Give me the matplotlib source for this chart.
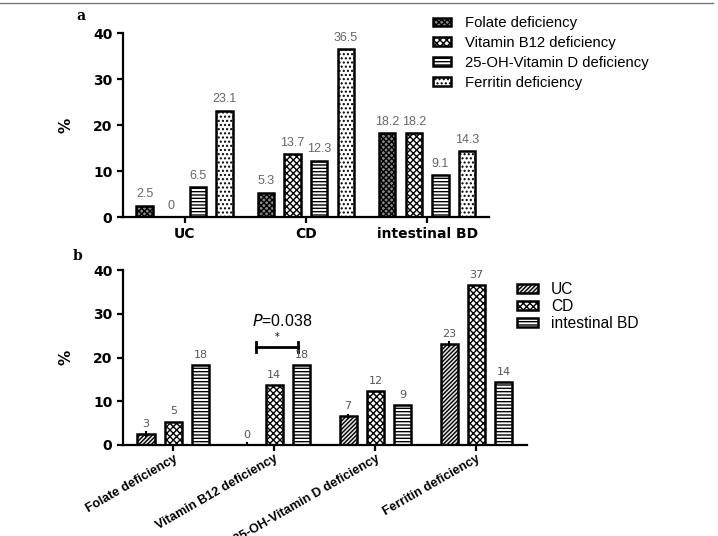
import matplotlib
matplotlib.use("Agg")
from matplotlib import pyplot as plt
from matplotlib.lines import Line2D
from matplotlib.patches import Patch
import numpy as np

# Panel a data: deficiency (%) per disease group
groups_a = ["UC", "CD", "intestinal BD"]
deficiencies = ["Folate deficiency", "Vitamin B12 deficiency",
                "25-OH-Vitamin D deficiency", "Ferritin deficiency"]
folate_a = [2.5, 5.3, 18.2]
b12_a = [0, 13.7, 18.2]
vitd_a = [6.5, 12.3, 9.1]
ferritin_a = [23.1, 36.5, 14.3]
labels_a = [["2.5", "5.3", "18.2"], ["0", "13.7", "18.2"],
            ["6.5", "12.3", "9.1"], ["23.1", "36.5", "14.3"]]

# Panel b data: same numbers grouped by deficiency
disease = ["UC", "CD", "intestinal BD"]
uc_b = [2.5, 0, 6.5, 23.1]
cd_b = [5.3, 13.7, 12.3, 36.5]
bd_b = [18.2, 18.2, 9.1, 14.3]
labels_b = [["3", "0", "7", "23"], ["5", "14", "12", "37"],
            ["18", "18", "9", "14"]]

plt.rcParams["hatch.linewidth"] = 1.0
plt.rcParams["font.family"] = "DejaVu Sans"

fig = plt.figure(figsize=(7.18, 5.36), dpi=100)

# thin frame line at the top like the source figure
fig.add_artist(Line2D([0, 0.993], [0.994, 0.994], color="#777777", lw=1.0))

def style_axes(ax):
    for s in ["top", "right"]:
        ax.spines[s].set_visible(False)
    ax.spines["left"].set_linewidth(1.6)
    ax.spines["bottom"].set_linewidth(1.6)
    ax.tick_params(width=1.6, length=4, labelsize=10)
    ax.set_ylim(0, 40)
    ax.set_yticks([0, 10, 20, 30, 40])
    for t in ax.get_yticklabels():
        t.set_fontweight("bold")
    ax.set_ylabel("%", fontweight="bold", fontsize=11, labelpad=14)

# ---------------- panel a ----------------
ax1 = fig.add_axes([0.171, 0.595, 0.510, 0.343])
x = np.arange(len(groups_a))
w = 0.135
offs = [-0.33, -0.11, 0.11, 0.33]
series_a = [folate_a, b12_a, vitd_a, ferritin_a]
hatch_a = ["xxxxxx", "XXXXX", "-----", "...."]
face_a = ["#888888", "white", "white", "white"]
for i, vals in enumerate(series_a):
    bars = ax1.bar(x + offs[i], vals, w, color=face_a[i], edgecolor="black",
                   hatch=hatch_a[i], linewidth=1.8)
    for j, b in enumerate(bars):
        ax1.text(b.get_x() + b.get_width() / 2, vals[j] + 1.2, labels_a[i][j],
                 ha="center", va="bottom", fontsize=9, color="#666666",
                 family="Liberation Sans")
ax1.set_xlim(-0.51, 2.51)
ax1.set_xticks(x)
ax1.set_xticklabels(groups_a, fontweight="bold", fontsize=10)
style_axes(ax1)

handles_a = [Patch(facecolor=face_a[i], edgecolor="black", hatch=hatch_a[i],
                   linewidth=1.8) for i in range(4)]
fig.legend(handles_a, deficiencies, loc="upper left",
           bbox_to_anchor=(0.585, 0.995), frameon=False,
           handlelength=1.2, handleheight=0.5, labelspacing=0.4,
           handletextpad=0.9,
           prop={"family": "Liberation Sans", "size": 10.7})

fig.text(0.107, 0.962, "a", fontweight="bold", family="DejaVu Serif", fontsize=10)

# ---------------- panel b ----------------
ax2 = fig.add_axes([0.171, 0.170, 0.563, 0.326])
x2 = np.arange(len(deficiencies))
w2 = 0.17
offs2 = [-0.27, 0.0, 0.27]
series_b = [uc_b, cd_b, bd_b]
hatch_b = ["////////", "XXXXX", "-----"]
face_b = ["#e6e6e6", "white", "white"]
for i, vals in enumerate(series_b):
    bars = ax2.bar(x2 + offs2[i], vals, w2, color=face_b[i], edgecolor="black",
                   hatch=hatch_b[i], linewidth=1.8)
    for j, b in enumerate(bars):
        ax2.text(b.get_x() + b.get_width() / 2, vals[j] + 1.2, labels_b[i][j],
                 ha="center", va="bottom", fontsize=8, color="#555555")
# small error caps on UC bars
ax2.errorbar(x2 + offs2[0], uc_b, yerr=0.6, fmt="none", ecolor="black",
             elinewidth=1.5, capsize=0)
ax2.set_xlim(-0.5, 3.5)
ax2.set_xticks(x2)
style_axes(ax2)
ax2.set_xticklabels(deficiencies, rotation=30, ha="right",
                    rotation_mode="anchor", fontweight="bold", fontsize=9.2,
                    family="Liberation Sans")
ax2.tick_params(axis="x", pad=1.5)

# significance bracket
ax2.plot([0.82, 1.23], [22.4, 22.4], color="black", lw=2)
ax2.plot([0.82, 0.82], [21.2, 23.6], color="black", lw=2)
ax2.plot([1.23, 1.23], [21.2, 23.6], color="black", lw=2)
ax2.text(1.025, 24.6, "*", ha="center", va="center", fontsize=7)
ax2.text(1.08, 28.3, "$\\it{P}$=0.038", ha="center", va="center", fontsize=11.5,
         family="Liberation Sans")

handles_b = [Patch(facecolor=face_b[i], edgecolor="black", hatch=hatch_b[i],
                   linewidth=1.8) for i in range(3)]
fig.legend(handles_b, disease, loc="upper left",
           bbox_to_anchor=(0.700, 0.5), frameon=False,
           handlelength=1.4, handleheight=0.5, labelspacing=0.12,
           handletextpad=0.8,
           prop={"family": "Liberation Sans", "size": 11.2})

fig.text(0.101, 0.515, "b", fontweight="bold", family="DejaVu Serif", fontsize=10)

plt.savefig("out.png", dpi=100)
